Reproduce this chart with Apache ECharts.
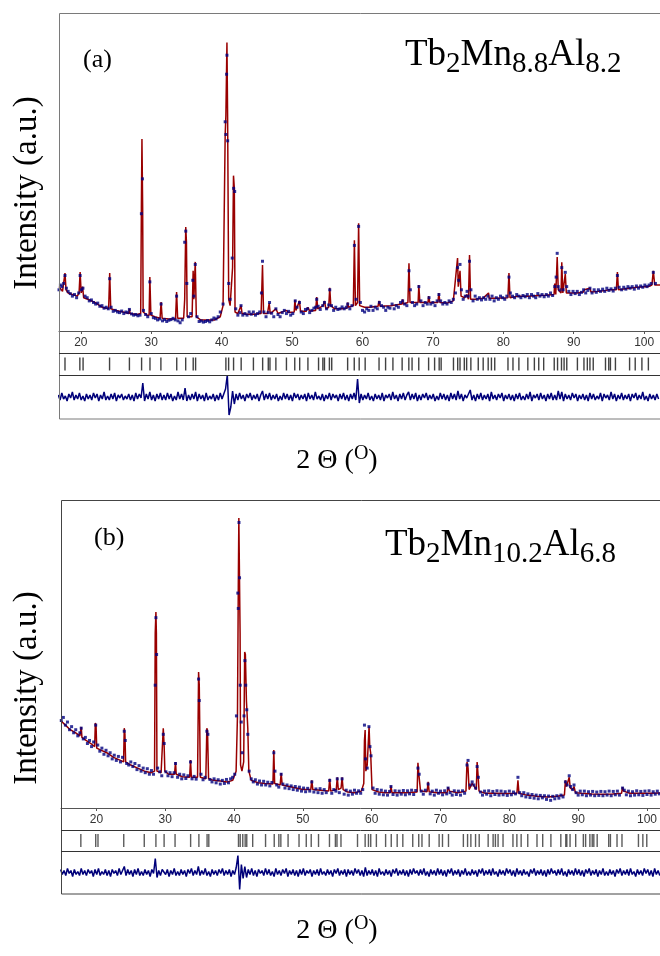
<!DOCTYPE html>
<html>
<head>
<meta charset="utf-8">
<script src="https://cdn.jsdelivr.net/npm/echarts@6/dist/echarts.min.js"></script>
<style>
  html, body { margin: 0; padding: 0; background: #fff; }
  #chart { width: 660px; height: 956px; }
</style>
</head>
<body>
<div id="chart"></div>
<script>
// x tick labels shared by both panels
const xTicks = [20, 30, 40, 50, 60, 70, 80, 90, 100];

// ---- panel (a) Tb2Mn8.8Al8.2 ----
// calculated profile [2theta, intensity]
const calcA = [[16.9,14],[17.4,12.5],[17.6,13],[17.75,18.3],[17.9,13],[18.2,12],[18.8,11.5],[19.5,11],[19.75,12],[19.9,18.6],[20.05,12],[20.25,14],[20.4,10.5],[21,10],[22,9],[23,7.5],[23.95,7],[24.1,18.3],[24.25,7],[25,6.5],[26,6],[26.8,5.5],[26.9,7],[27.0,5.5],[28,5.2],[28.5,5.5],[28.6,38.8],[28.68,60.6],[28.78,38.8],[28.85,6],[29.4,5],[29.7,5],[29.8,17],[29.95,5],[30.5,4.5],[31.25,4],[31.4,9.1],[31.55,4],[32.5,3.8],[33.45,3.8],[33.6,12.3],[33.75,4],[34.6,4],[34.75,10],[34.9,32.8],[35.0,28],[35.1,4.5],[35.8,4.5],[35.95,19],[36.05,10],[36.25,21.8],[36.4,4.5],[37,3.5],[38,3.5],[39,3.5],[39.8,4.5],[40.2,8],[40.5,62],[40.6,68],[40.75,91],[40.85,66],[41.0,10],[41.2,8],[41.55,20],[41.68,49],[41.8,45],[41.9,6],[42.3,5.5],[42.75,8],[42.9,5.5],[43.5,5.3],[44.5,5.3],[45.6,5.5],[45.8,20.8],[45.95,5.5],[46.5,5.5],[46.75,8.8],[46.9,5.5],[47.7,7],[48,5.5],[49.2,6.5],[49.5,5.8],[50.3,6],[50.4,9.8],[50.55,6.5],[51.05,9.5],[51.2,6.2],[52,6.2],[52.25,7.5],[52.5,6.3],[53.35,6.5],[53.5,10.7],[53.65,7],[54.4,8],[54.6,9.5],[54.8,7],[55.2,7.5],[55.35,13.6],[55.5,8],[56,7],[57,7],[57.8,7.2],[57.9,9],[58,7.5],[58.7,8],[58.85,28.6],[59.0,8],[59.3,9],[59.45,34],[59.6,8],[60.3,7.5],[61,7.5],[62.2,7.8],[62.35,9.5],[62.5,7.8],[64,8],[65.6,8.5],[65.7,10],[65.8,8.5],[66.45,9],[66.6,21.4],[66.75,9],[67.9,9],[68.0,14.5],[68.15,9],[69.3,9],[69.4,11],[69.55,9],[70.7,9],[70.85,12],[71.0,9],[72,8.8],[72.9,9.5],[73.5,23],[73.6,14],[73.85,19],[74.0,11],[74.5,10.5],[74.8,11.5],[75.05,10],[75.2,24],[75.35,10],[76,10],[77.1,10.3],[77.9,12],[78.0,10.3],[79,10.3],[80.65,10.5],[80.8,18.3],[80.95,10.5],[82.2,11],[83.5,11],[85,11.2],[86,11.3],[87.2,11.5],[87.3,15],[87.45,11.5],[87.65,23.3],[87.8,13],[88.2,12],[88.3,21.7],[88.45,12],[88.7,12],[88.8,18],[88.95,12],[89.5,12],[90.5,12],[91.4,12.3],[91.5,13],[92.3,13.5],[92.45,12.3],[93.5,12.5],[94.5,12.8],[95,13],[96.05,13],[96.2,18.6],[96.35,13],[97.9,13.5],[99,13.8],[100.6,14],[101.1,14.5],[101.3,19],[101.5,14.5],[102.3,14.5]];
// observed points
const obsA = [[16.9,13],[17.1,14.5],[17.3,14],[17.55,15],[17.75,17.5],[17.95,13.5],[18.2,12.5],[18.5,11.8],[18.8,11],[19.1,11.5],[19.4,10.5],[19.7,12],[19.9,17.5],[20.1,13],[20.3,13.5],[20.6,11],[20.9,10.5],[21.2,9.5],[21.5,9.8],[21.8,9],[22.1,8.5],[22.4,8.8],[22.7,7.8],[23,8],[23.3,7.2],[23.6,7.5],[23.9,7],[24.1,16.5],[24.3,7.5],[24.6,6.2],[24.9,6.5],[25.2,6],[25.5,5.8],[25.8,6.3],[26.1,5.5],[26.4,6],[26.7,5.8],[26.9,6.8],[27.2,5.4],[27.5,5],[27.8,5.2],[28.1,4.8],[28.4,5],[28.6,37],[28.75,48],[28.9,6.5],[29.2,5.2],[29.5,4.5],[29.8,15.5],[30.0,5.5],[30.3,4.2],[30.6,4],[30.9,3.5],[31.2,3.8],[31.4,8.5],[31.6,3.2],[31.9,3.6],[32.2,3],[32.5,3.4],[32.8,3.6],[33.1,4],[33.4,3.5],[33.6,11],[33.8,3.2],[34.1,2.6],[34.4,3.5],[34.75,28],[34.9,31.5],[35.05,15],[35.3,4.5],[35.6,5.5],[35.9,16],[36.05,11],[36.25,21],[36.5,4.5],[36.8,3],[37.1,3.2],[37.4,2.8],[37.7,3],[38,3.3],[38.3,2.9],[38.6,3.5],[38.9,4.1],[39.2,3.8],[39.5,4.5],[39.8,6],[40.2,8.5],[40.5,66],[40.6,62],[40.7,81],[40.75,87],[40.85,60],[41.0,15],[41.2,10],[41.5,23],[41.7,45],[41.85,44],[42.0,7],[42.3,5],[42.6,5.8],[42.75,8],[43.0,5],[43.3,5.5],[43.6,5],[43.9,6],[44.2,5.3],[44.5,6],[44.8,5],[45.1,5.5],[45.4,6],[45.65,12],[45.8,22],[46.0,6],[46.3,4.5],[46.6,5.8],[46.8,9],[47.1,5.6],[47.4,4.5],[47.7,7],[48,5.2],[48.3,4.5],[48.6,5.8],[48.9,6.5],[49.2,5.5],[49.5,6.2],[49.8,5],[50.1,5.5],[50.45,9.5],[50.7,7.5],[51.05,9],[51.3,6],[51.6,5.5],[51.9,6.8],[52.2,7],[52.5,5.8],[52.8,6.5],[53.1,7.2],[53.35,7.5],[53.5,10],[53.7,7.8],[54,6.8],[54.35,8],[54.6,9],[54.9,7],[55.2,8.2],[55.35,13],[55.6,8],[55.9,6.5],[56.2,7.5],[56.5,6.8],[56.8,7],[57.1,7.6],[57.4,7],[57.7,7.5],[57.9,8.5],[58.2,7],[58.5,8],[58.85,27],[59.1,10],[59.45,33],[59.7,9],[60,6.5],[60.3,6],[60.6,7],[60.9,6.5],[61.2,7.8],[61.5,6.5],[61.8,7.5],[62.1,7],[62.4,9],[62.7,8],[63,7.5],[63.3,6.5],[63.6,7.5],[63.9,7.2],[64.2,8.5],[64.5,7],[64.8,8],[65.1,7.5],[65.4,9],[65.7,9.5],[66,8.5],[66.3,8],[66.6,19],[66.8,13],[67.1,9],[67.4,8],[67.7,8.5],[68,14],[68.3,9.5],[68.6,8],[68.9,9],[69.2,8.5],[69.45,10.5],[69.7,8.5],[70,9],[70.3,8],[70.6,9.5],[70.85,11.5],[71.1,9.5],[71.4,8.5],[71.7,9],[72,8.5],[72.3,9.5],[72.6,9],[72.9,10],[73.2,12],[73.5,20],[73.65,16],[73.85,21],[74.05,13],[74.3,10],[74.6,11],[74.85,12.5],[75.0,11],[75.2,22],[75.4,13],[75.7,9.5],[76,11],[76.3,10],[76.6,10.5],[76.9,9.8],[77.2,10.5],[77.5,10],[77.8,11],[78.1,10],[78.4,11],[78.7,9.5],[79,10.5],[79.3,10],[79.6,11],[79.9,10.5],[80.2,10],[80.5,11],[80.8,17],[81.0,12],[81.3,11],[81.6,10.5],[81.9,11.5],[82.2,11],[82.5,10.5],[82.8,11.2],[83.1,10.8],[83.4,11.5],[83.7,10.5],[84,11.5],[84.3,11],[84.6,10.5],[84.9,11.8],[85.2,11],[85.5,11.5],[85.8,10.8],[86.1,11.5],[86.4,11],[86.7,12],[87,11.2],[87.3,14],[87.5,17],[87.65,24.5],[87.8,14],[88,13],[88.3,20],[88.5,13],[88.8,18.5],[89,14],[89.3,12.5],[89.6,11.5],[89.9,12.5],[90.2,11.8],[90.5,12.5],[90.8,11.5],[91.1,12.2],[91.4,13],[91.7,12],[92,12.8],[92.3,13.5],[92.6,12],[92.9,13],[93.2,12.2],[93.5,13],[93.8,12.5],[94.1,13.2],[94.4,12.5],[94.7,13.5],[95,12.8],[95.3,13.3],[95.6,12.6],[95.9,13.5],[96.2,17.5],[96.45,13.8],[96.8,13],[97.1,13.8],[97.4,13.2],[97.7,14],[98,13.5],[98.3,14],[98.6,13.2],[98.9,14.2],[99.2,13.5],[99.5,14.2],[99.8,13.8],[100.1,14.5],[100.4,14],[100.7,14.5],[101.0,15],[101.3,18.5],[101.6,15]];
// Bragg reflection positions
const braggA = [17.75,19.86,20.32,24.08,26.9,28.63,29.82,31.37,33.62,34.89,35.96,36.3,40.6,40.99,41.69,42.77,44.51,45.82,46.62,46.86,47.7,49.2,50.38,51.08,52.25,53.76,54.37,54.6,55.3,55.63,57.89,58.83,59.53,60.38,62.35,63.28,64.32,65.63,66.58,67.04,67.99,69.39,70.24,70.89,71.17,72.92,73.52,73.85,74.46,74.79,75.39,76.44,77.14,77.85,78.31,78.78,80.66,81.37,82.21,83.48,84.41,85.03,85.73,87.23,87.7,88.26,88.63,89.01,90.52,91.45,91.93,92.3,92.77,94.51,94.97,95.21,95.92,97.93,98.73,99.68,100.6];
// difference curve, one value every 0.25 deg from 16.8
const diffAStart = 16.8;
const diffA = [2,-3,4,-2,1,-4,3,-1,5,-3,2,-2,4,-3,1,-4,3,-2,2,-3,
  4,-1,3,-4,2,-2,5,-3,1,-3,3,-2,4,-4,2,-1,3,-3,1,-2,
  3,-3,2,-4,4,-2,3,-1,14,-4,3,-2,5,-3,2,-4,3,-2,4,-3,
  2,-3,4,-2,3,-4,1,-3,5,-2,3,-3,9,-4,2,-3,3,-2,5,-4,
  3,-2,2,-4,4,-3,1,-2,3,-4,2,-3,4,-2,3,8,22,-18,-10,6,
  -7,3,-3,4,-2,2,-4,3,-1,4,-3,2,-2,3,-4,2,6,-3,3,-2,
  4,-3,2,-2,3,-4,1,-3,4,-2,3,-3,2,-4,4,-1,3,-3,2,-2,
  3,-4,4,-2,2,-3,5,-2,1,-3,3,-4,2,-2,4,-3,3,-1,2,-4,
  3,-2,4,-3,2,-4,3,-2,4,-3,18,-6,3,-3,2,-2,4,-3,1,-4,
  3,-2,2,-3,4,-4,2,-1,3,-3,5,-2,2,-4,3,-2,4,-3,2,5,
  -3,3,-2,4,-4,2,-3,3,-1,4,-3,2,-2,3,-4,1,-3,4,-2,3,
  -3,2,-4,4,-2,3,-3,6,-2,3,-4,2,-1,3,7,-3,2,-4,3,-2,
  4,-3,2,-2,3,-4,5,-2,2,-3,3,-1,4,-4,2,-2,3,-3,2,-4,
  3,-2,4,-3,1,-3,3,-2,5,-4,2,-1,3,-3,4,-2,2,-4,3,-2,
  4,-3,2,-3,6,-2,5,-4,3,-2,2,-3,4,-1,3,-4,2,-2,3,-3,
  2,-4,4,-2,3,-3,1,-2,4,-4,3,-1,2,-3,5,-2,3,-4,2,-2,
  4,-3,2,-2,3,-4,3,-1,4,-3,2,-2,5,-3,1,-4,3,-2,2,-3,
  3,-2];

// ---- panel (b) Tb2Mn10.2Al6.8 ----
const calcB = [[14.8,28.5],[15.5,27],[16.2,25.5],[17,24.5],[17.6,23.5],[17.7,25],[17.8,26.4],[17.9,23],[18.5,22],[19.2,21],[19.75,20],[19.85,27.7],[19.95,27],[20.05,19.5],[20.5,19],[21.5,18],[22.5,16.5],[23.5,15.5],[23.95,15],[24.05,26],[24.15,24],[24.25,15],[25,14],[26,13],[27,12],[28,11.5],[28.45,12],[28.55,57],[28.65,63.8],[28.72,57],[28.8,12],[29.4,11.5],[29.6,12],[29.72,26],[29.85,20],[29.95,12],[30.5,11],[31.35,11],[31.5,15],[31.6,11],[32.5,10.2],[33.55,10],[33.68,15.6],[33.8,10],[34.7,10],[34.85,44.3],[34.95,40],[35.1,10],[35.9,9.5],[36.05,26],[36.15,25],[36.3,9.5],[37,9],[38,8.8],[39,8.5],[39.8,9],[40.3,12],[40.5,30],[40.58,58],[40.62,72],[40.7,94.5],[40.8,94.5],[40.88,57],[40.95,14],[41.15,12],[41.4,15],[41.55,50.8],[41.65,50],[41.8,35],[42.0,26],[42.15,12],[42.5,9],[43.5,8.2],[44.5,8],[45.65,7.8],[45.78,18.9],[45.9,8],[46.7,7.5],[46.85,11.4],[47.0,7.5],[48,7],[49,6.5],[50,6],[51.15,6],[51.3,9],[51.45,6],[52.5,5.8],[53.75,5.5],[53.9,9.5],[54.05,5.5],[54.85,6],[55.0,10],[55.15,6],[55.55,6.5],[55.7,10],[55.85,6],[56.5,5.2],[57.5,5],[58.5,5.5],[58.85,8],[58.95,22],[59.05,25.4],[59.15,12],[59.35,14],[59.5,14],[59.62,26.5],[59.72,20],[59.85,18],[60.05,6],[61,5.2],[62,5],[62.7,5],[62.8,7.2],[62.95,5],[64,5],[65,5],[66.6,5.2],[66.72,14.7],[66.85,11],[67.1,5.5],[68.05,5.3],[68.2,8.5],[68.35,5.3],[69.5,5],[70.95,5],[71.1,6.8],[71.3,5.5],[72.5,5],[73.7,5.5],[73.85,15],[74.0,13],[74.15,6],[74.6,8],[74.85,8.5],[75.2,6],[75.32,15],[75.45,11],[75.6,5.5],[76.5,4.8],[78,4.8],[79.5,4.7],[81.1,4.8],[81.25,9],[81.4,4.8],[82.5,4.2],[84,3.8],[85.5,3.6],[87,3.8],[88.0,4.2],[88.15,9],[88.3,7],[88.55,6.5],[88.7,10],[88.85,6.5],[89.2,6],[89.4,7],[89.6,5],[90.5,4.8],[92,4.6],[93.5,4.5],[95,4.6],[96.3,4.8],[96.45,6.8],[96.6,5.5],[97.5,4.8],[99,4.8],[100.5,4.8],[102,4.9]];
const obsB = [[14.9,28.5],[15.2,29.5],[15.5,27],[15.8,28],[16.1,25.5],[16.4,26.5],[16.7,24.5],[17.0,25.5],[17.3,23.5],[17.6,24.5],[17.8,26],[18.1,22.5],[18.4,23],[18.7,21],[19.0,22],[19.3,20],[19.6,21.5],[19.9,27],[20.2,20.5],[20.5,18.5],[20.8,19.5],[21.1,17.5],[21.4,18.8],[21.7,17],[22.0,18],[22.3,16],[22.6,17.2],[22.9,15.5],[23.2,16.8],[23.5,15],[23.8,16.5],[24.05,25],[24.2,22],[24.4,14.5],[24.7,14],[25.0,15],[25.3,13.5],[25.6,14.5],[25.9,12.5],[26.2,13.8],[26.5,12],[26.8,13],[27.1,11.5],[27.4,12.8],[27.7,11],[28.0,12.2],[28.3,11],[28.55,40],[28.65,62],[28.75,50],[28.9,13],[29.2,11.8],[29.5,10.5],[29.72,24],[29.85,21],[30.1,11.8],[30.4,10.5],[30.7,11.5],[31.0,10.2],[31.3,11.5],[31.5,14.5],[31.8,10],[32.1,11],[32.4,9.5],[32.7,10.8],[33.0,9.6],[33.3,10.5],[33.68,15],[33.9,9.5],[34.2,10.3],[34.5,9.4],[34.85,42],[34.95,35],[35.2,11],[35.5,9.2],[35.8,10],[36.05,25],[36.2,24],[36.5,9.3],[36.8,8.5],[37.1,9.5],[37.4,8.2],[37.7,9.2],[38.0,7.8],[38.3,9],[38.6,8],[38.9,9.3],[39.2,8.2],[39.5,9.5],[39.8,10],[40.1,11],[40.35,30],[40.55,70],[40.62,65],[40.72,93],[40.8,75],[40.9,40],[41.05,28],[41.2,18],[41.45,30],[41.58,48],[41.7,40],[41.85,32],[42.0,24],[42.2,12],[42.5,9.5],[42.8,8.5],[43.1,9.2],[43.4,7.8],[43.7,8.8],[44.0,7.5],[44.3,8.7],[44.6,7.5],[44.9,8.4],[45.2,7.2],[45.5,8.3],[45.78,18],[45.95,12],[46.2,7.5],[46.5,6.8],[46.85,11],[47.1,7.8],[47.4,6.5],[47.7,7.5],[48.0,6.3],[48.3,7.2],[48.6,6],[48.9,7],[49.2,5.8],[49.5,6.8],[49.8,5.5],[50.1,6.5],[50.4,5.3],[50.7,6.4],[51.0,5.5],[51.3,8.5],[51.6,5.2],[51.9,6.2],[52.2,5],[52.5,6.3],[52.8,4.8],[53.1,6],[53.4,5],[53.9,9],[54.2,4.8],[54.5,6],[54.8,5.5],[55.0,9.5],[55.3,5],[55.7,9.5],[56.0,4.5],[56.3,5.8],[56.6,4.2],[56.9,5.5],[57.2,4.5],[57.5,5.8],[57.8,4.8],[58.1,5.6],[58.4,4.8],[58.7,6],[58.95,27],[59.1,16],[59.35,13],[59.6,26.5],[59.75,20],[59.9,17],[60.2,6.5],[60.5,4.8],[60.8,6],[61.1,4.5],[61.4,5.8],[61.7,4.3],[62.0,5.5],[62.3,4.2],[62.6,5.4],[62.8,7],[63.1,4.4],[63.4,5.6],[63.7,4.2],[64.0,5.5],[64.3,4.5],[64.6,5.7],[64.9,4.3],[65.2,5.6],[65.5,4.6],[65.8,5.8],[66.1,4.4],[66.4,5.7],[66.72,13],[66.9,11],[67.2,5.5],[67.5,4.5],[67.8,5.8],[68.2,7.8],[68.5,4.6],[68.8,5.5],[69.1,4.2],[69.4,5.8],[69.7,4.8],[70.0,5.5],[70.3,4.3],[70.6,5.6],[70.9,4.6],[71.1,6.5],[71.4,5],[71.7,4.2],[72.0,5.6],[72.3,4.4],[72.6,5.5],[72.9,4.2],[73.2,5.6],[73.5,4.8],[73.85,14],[74.0,15.5],[74.3,7.5],[74.6,8.5],[74.85,7.5],[75.1,6.5],[75.32,13.5],[75.5,10],[75.8,5.2],[76.1,4.2],[76.4,5.5],[76.7,4.5],[77.0,5.6],[77.3,4],[77.6,5.4],[77.9,4.4],[78.2,5.6],[78.5,4.2],[78.8,5.5],[79.1,4.3],[79.4,5.3],[79.7,4.1],[80.0,5.5],[80.3,4.3],[80.6,5.2],[80.9,4.6],[81.25,10],[81.5,5],[81.8,4],[82.1,5],[82.4,3.6],[82.7,4.6],[83.0,3.4],[83.3,4.4],[83.6,3.2],[83.9,4.2],[84.2,3],[84.5,4.1],[84.8,3.3],[85.1,4],[85.4,2.8],[85.7,3.9],[86.0,2.5],[86.3,3.8],[86.6,3],[86.9,4],[87.2,3.2],[87.5,4.2],[87.8,3.6],[88.15,8.5],[88.4,7.5],[88.7,10.5],[88.9,7],[89.2,6],[89.4,7.5],[89.7,5],[90.0,4.2],[90.3,5.5],[90.6,4.3],[90.9,5.5],[91.2,4],[91.5,5.3],[91.8,4.2],[92.1,5.4],[92.4,4],[92.7,5.2],[93.0,4.1],[93.3,5.4],[93.6,4],[93.9,5.3],[94.2,4.2],[94.5,5.5],[94.8,4],[95.1,5.4],[95.4,4.3],[95.7,5.5],[96.0,4.2],[96.45,6.5],[96.7,5.8],[97.0,4.3],[97.3,5.5],[97.6,4],[97.9,5.3],[98.2,4.2],[98.5,5.6],[98.8,4.3],[99.1,5.4],[99.4,4.1],[99.7,5.5],[100.0,4.4],[100.3,5.6],[100.6,4.2],[100.9,5.3],[101.2,4.5],[101.5,5.5],[101.8,4.6]];
const braggB = [17.74,19.9,20.23,23.97,26.95,28.64,29.83,31.42,33.68,34.88,36.07,36.32,40.63,40.88,41.25,41.6,41.83,42.69,44.56,45.82,46.49,46.78,47.83,49.42,50.47,51.19,52.25,53.84,54.7,54.93,55.51,57.91,59.02,59.5,59.83,60.65,61.99,62.81,63.67,64.49,65.93,66.8,67.27,68.32,69.76,70.25,71.12,73.28,73.89,74.37,75.05,75.58,76.88,77.6,77.93,78.32,79.04,80.48,81.05,81.67,82.63,83.97,84.8,85.99,87.43,88.15,88.3,88.77,89.59,90.7,91.03,91.65,91.99,92.22,92.71,94.38,94.63,95.59,96.31,98.7,99.34,99.91];
const diffBStart = 14.8;
const diffB = [3,-2,2,-3,4,-1,2,-4,3,-2,1,-3,4,-2,2,-3,3,-1,2,-4,
  3,-2,4,-3,1,-2,3,-3,2,-4,3,-1,2,-3,4,-2,2,6,-3,3,
  -2,2,-4,3,-2,4,-3,1,-3,3,-2,2,-4,3,-1,14,-5,2,-3,3,
  5,-2,3,-4,2,-2,4,-3,1,-3,3,-2,2,-4,3,-1,4,-3,2,-2,
  6,-3,2,-2,4,-3,1,-4,3,-2,2,-3,3,-1,4,-3,2,-2,3,-4,
  2,-2,5,17,-17,8,-6,6,-5,3,-2,4,-3,2,-4,3,-1,2,-3,4,
  -2,3,-3,1,-4,4,-2,2,-3,3,-1,4,-4,2,-2,3,-3,2,-4,3,
  -2,4,-3,2,-1,3,-4,2,-2,3,-3,4,-2,1,-3,3,-2,2,-4,3,
  -1,4,-3,2,-2,3,-4,3,-2,2,-3,4,-1,3,-3,2,-4,5,-3,2,
  -2,3,-3,2,-4,4,-2,1,-3,3,-2,2,-4,3,-1,4,-3,2,-2,3,
  -3,2,-4,3,-2,4,-1,2,-3,3,-2,4,-3,1,-4,3,-2,2,-3,4,
  -2,3,-3,2,-4,3,-1,4,-3,2,-2,3,-4,2,-2,4,-3,1,-3,3,
  -2,2,-4,3,-1,4,-3,2,-2,3,-3,4,-2,1,-4,3,-2,2,-3,4,
  -1,3,-3,2,-4,4,-2,2,-3,3,-2,1,-4,3,-1,4,-3,2,-2,3,
  -3,2,-4,3,-2,4,-1,2,-3,3,-2,4,-3,1,-4,3,-2,2,-3,4,
  -2,3,-3,2,-4,3,-1,4,-3,2,-2,3,-4,2,-2,4,-3,1,-3,3,
  -2,2,-4,3,-1,4,-3,2,-2,3,-3,4,-2,1,-4,3,-2,2,-3,4,
  -1,3,-3,2,-4,4,-2,2,-3];
const diffStep = 0.25;

const serif = "'Liberation Serif', 'Times New Roman', serif";
const sans = "'Liberation Sans', Arial, sans-serif";

const panels = [
  { left: 59, top: 14, h: 317, tickTop: 353, tickH: 22, diffTop: 375, diffH: 44, min: 16.9, max: 102.25,
    calc: calcA, obs: obsA, bragg: braggA, diff: diffA, diffStart: diffAStart, tickColor: '#111' },
  { left: 61, top: 501, h: 307, tickTop: 830, tickH: 21, diffTop: 851, diffH: 43, min: 14.86, max: 101.83,
    calc: calcB, obs: obsB, bragg: braggB, diff: diffB, diffStart: diffBStart, tickColor: '#333' }
];

let grid = [], xAxis = [], yAxis = [], series = [];
panels.forEach(function (p) {
  let g0 = grid.length;
  grid.push({ left: p.left, top: p.top, width: 606, height: p.h });
  grid.push({ left: p.left, top: p.tickTop, width: 606, height: p.tickH });
  grid.push({ left: p.left, top: p.diffTop, width: 606, height: p.diffH });
  // main x axis with labels
  xAxis.push({
    type: 'value', gridIndex: g0, min: p.min, max: p.max,
    axisLine: { show: true, lineStyle: { color: '#555', width: 1 } },
    axisTick: { show: true, length: 3, customValues: xTicks, lineStyle: { color: '#555' } },
    axisLabel: { show: true, customValues: xTicks, fontSize: 12, fontFamily: sans, color: '#333', margin: 6 },
    splitLine: { show: false }
  });
  xAxis.push({ type: 'value', gridIndex: g0 + 1, min: p.min, max: p.max, show: false });
  xAxis.push({ type: 'value', gridIndex: g0 + 2, min: p.min, max: p.max, show: false });
  yAxis.push({ type: 'value', gridIndex: g0, min: 0, max: 100, show: false });
  yAxis.push({ type: 'value', gridIndex: g0 + 1, min: 0, max: 1, show: false });
  yAxis.push({ type: 'value', gridIndex: g0 + 2, min: -p.diffH / 2, max: p.diffH / 2, show: false });

  series.push({
    type: 'line', xAxisIndex: g0, yAxisIndex: g0, data: p.calc, symbol: 'none',
    lineStyle: { color: '#990000', width: 1.5 }, z: 2
  });
  series.push({
    type: 'scatter', xAxisIndex: g0, yAxisIndex: g0, data: p.obs, symbol: 'rect', symbolSize: 3,
    itemStyle: { color: '#000080' }, z: 3
  });
  series.push({
    type: 'scatter', xAxisIndex: g0 + 1, yAxisIndex: g0 + 1,
    data: p.bragg.map(function (t) { return [t, 0.5]; }),
    symbol: 'rect', symbolSize: [1.4, 13], itemStyle: { color: p.tickColor }
  });
  series.push({
    type: 'line', xAxisIndex: g0 + 2, yAxisIndex: g0 + 2,
    data: p.diff.map(function (v, i) { return [p.diffStart + i * diffStep, v]; }),
    symbol: 'none', lineStyle: { color: '#00007a', width: 1.5 }
  });
});

function frame(p, color) {
  return [
    { type: 'rect', shape: { x: p.left + 0.5, y: p.top - 0.5, width: 640, height: p.diffTop + p.diffH - p.top + 0.5 },
      style: { fill: 'none', stroke: color, lineWidth: 1 }, z: 10 },
    { type: 'line', shape: { x1: p.left, y1: p.tickTop + 0.5, x2: 660, y2: p.tickTop + 0.5 },
      style: { stroke: '#333', lineWidth: 1 }, z: 10 },
    { type: 'line', shape: { x1: p.left, y1: p.diffTop + 0.5, x2: 660, y2: p.diffTop + 0.5 },
      style: { stroke: '#333', lineWidth: 1 }, z: 10 }
  ];
}

function formula(x, y, text) {
  return {
    type: 'text', x: x, y: y, z: 20,
    style: {
      text: text, align: 'left', verticalAlign: 'middle', fill: '#000',
      rich: {
        m: { fontSize: 37, fontFamily: serif, lineHeight: 40, color: '#000' },
        s: { fontSize: 29, fontFamily: serif, lineHeight: 20, padding: [19, 0, 0, 0], color: '#000' }
      }
    }
  };
}

function plainText(x, y, text, size, rot) {
  return {
    type: 'text', x: x, y: y, rotation: rot || 0, z: 20,
    style: { text: text, font: size + 'px ' + serif, fill: '#000', align: rot ? 'center' : 'left', verticalAlign: 'middle' }
  };
}

function xTitle(x, y) {
  return {
    type: 'text', x: x, y: y, z: 20,
    style: {
      text: '{m|2 \u0398 (}{u|O}{m|)}', align: 'center', verticalAlign: 'middle',
      rich: {
        m: { fontSize: 28, fontFamily: serif, lineHeight: 32, color: '#000' },
        u: { fontSize: 20, fontFamily: serif, lineHeight: 16, padding: [0, 0, 15, 0], color: '#000' }
      }
    }
  };
}

const graphic = [].concat(
  frame(panels[0], '#7a7a7a'),
  frame(panels[1], '#444'),
  [
    plainText(83, 60, '(a)', 26),
    plainText(94, 538, '(b)', 26),
    formula(405, 55, '{m|Tb}{s|2}{m|Mn}{s|8.8}{m|Al}{s|8.2}'),
    formula(385, 545, '{m|Tb}{s|2}{m|Mn}{s|10.2}{m|Al}{s|6.8}'),
    plainText(27, 193, 'Intensity (a.u.)', 33, Math.PI / 2),
    plainText(27, 688, 'Intensity (a.u.)', 33, Math.PI / 2),
    xTitle(337, 461),
    xTitle(337, 931)
  ]
);

const myChart = echarts.init(document.getElementById('chart'), null, { renderer: 'canvas' });
myChart.setOption({
  animation: false,
  backgroundColor: '#fff',
  grid: grid,
  xAxis: xAxis,
  yAxis: yAxis,
  series: series,
  graphic: graphic
});
</script>
</body>
</html>
